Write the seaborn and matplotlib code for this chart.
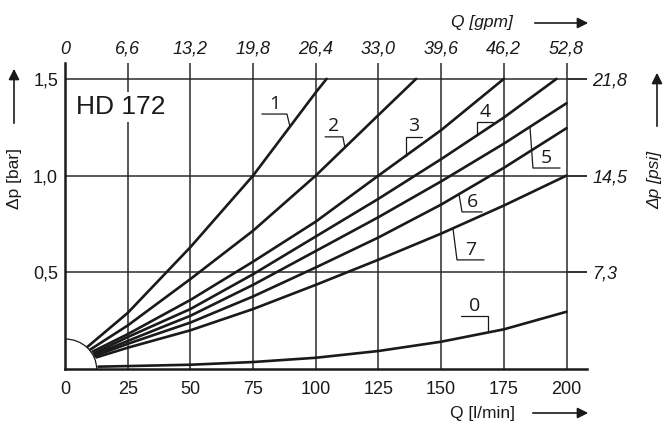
import numpy as np
import pandas as pd
import seaborn as sns
import matplotlib.pyplot as plt
from matplotlib.patches import Arc

# flow Q [l/min] vs pressure drop dp [bar]
q_0 = [13.3, 25, 50, 75, 100, 125, 150, 175, 200]
dp_0 = [0.012, 0.015, 0.022, 0.036, 0.058, 0.093, 0.141, 0.205, 0.296]
q_1 = [9, 25, 50, 75, 100, 104.3]
dp_1 = [0.115, 0.29, 0.63, 1.0, 1.43, 1.5]
q_2 = [10, 25, 50, 75, 100, 125, 140]
dp_2 = [0.1, 0.225, 0.465, 0.715, 1.0, 1.313, 1.5]
q_3 = [11, 25, 50, 75, 100, 125, 150, 175]
dp_3 = [0.09, 0.18, 0.357, 0.555, 0.762, 1.0, 1.235, 1.5]
q_4 = [11.5, 25, 50, 75, 100, 125, 150, 175, 196]
dp_4 = [0.08, 0.165, 0.31, 0.49, 0.685, 0.88, 1.085, 1.3, 1.5]
q_5 = [12, 25, 50, 75, 100, 125, 150, 175, 200]
dp_5 = [0.075, 0.145, 0.275, 0.435, 0.61, 0.785, 0.97, 1.165, 1.374]
q_6 = [12, 25, 50, 75, 100, 125, 150, 175, 200]
dp_6 = [0.068, 0.13, 0.24, 0.375, 0.525, 0.68, 0.85, 1.04, 1.245]
q_7 = [12.5, 25, 50, 75, 100, 125, 150, 175, 200]
dp_7 = [0.06, 0.11, 0.2, 0.31, 0.435, 0.565, 0.70, 0.845, 1.0]

curve_names = ["0", "1", "2", "3", "4", "5", "6", "7"]
curve_q = [q_0, q_1, q_2, q_3, q_4, q_5, q_6, q_7]
curve_dp = [dp_0, dp_1, dp_2, dp_3, dp_4, dp_5, dp_6, dp_7]

x_ticks = [0, 25, 50, 75, 100, 125, 150, 175, 200]
gpm_labels = ["0", "6,6", "13,2", "19,8", "26,4", "33,0", "39,6", "46,2", "52,8"]
y_ticks = [0.5, 1.0, 1.5]
bar_labels = ["0,5", "1,0", "1,5"]
psi_labels = ["7,3", "14,5", "21,8"]

# curve label callouts: name, q on curve, bar from/to, bar height, which bar end joins the curve
callouts = [
    ("1", 89.7, 78.5, 88.5, 1.318, "right"),
    ("2", 111.6, 103.7, 110.8, 1.20, "right"),
    ("3", 136.0, 136.0, 142.3, 1.20, "left"),
    ("4", 164.3, 164.3, 170.7, 1.277, "left"),
    ("5", 185.4, 186.6, 197.4, 1.039, "left"),
    ("6", 157.1, 158.3, 166.3, 0.812, "left"),
    ("7", 154.7, 156.3, 167.1, 0.564, "left"),
    ("0", 168.7, 157.9, 168.7, 0.274, "right"),
]

df = pd.concat(
    [pd.DataFrame({"curve": n, "Q": q, "dp": d}) for n, q, d in zip(curve_names, curve_q, curve_dp)],
    ignore_index=True,
)

sns.set_theme(style="white")
plt.rcParams["font.family"] = ["Liberation Sans", "DejaVu Sans"]
ink = "#1a1a1a"

fig = plt.figure(figsize=(6.67, 4.23), dpi=100)
ax = fig.add_axes([0.0975, 0.1277, 0.782, 0.7225])

sns.lineplot(data=df, x="Q", y="dp", hue="curve", palette=[ink] * len(curve_names),
             estimator=None, sort=False, legend=False, linewidth=1.9, ax=ax)

ax.set_xlim(0, 208)
ax.set_ylim(0, 1.58)
ax.set_xticks(x_ticks)
ax.set_yticks(y_ticks, labels=bar_labels)
ax.tick_params(length=0, labelsize=13, colors=ink)
ax.tick_params(axis="x", pad=9)
ax.tick_params(axis="y", pad=5)
ax.grid(True, color="#2a2a2a", linewidth=1.1)
ax.set_xlabel("")
ax.set_ylabel("")
for side in ["top", "right"]:
    ax.spines[side].set_visible(False)
for side in ["left", "bottom"]:
    ax.spines[side].set_color(ink)
    ax.spines[side].set_linewidth(1.8)

# little quarter circle at the origin
ax.add_patch(Arc((0, 0), 2 * 12.6, 2 * 0.155, theta1=0, theta2=90, color=ink, lw=0.9))

ax.text(22.3, 1.355, "HD 172", fontsize=19, ha="center", va="center", color=ink,
        bbox=dict(facecolor="white", edgecolor="none", pad=2))

for name, q_at, x0, x1, y_bar, joint in callouts:
    i = curve_names.index(name)
    y_at = np.interp(q_at, curve_q[i], curve_dp[i])
    xj, xo = (x1, x0) if joint == "right" else (x0, x1)
    ax.plot([q_at, xj, xo], [y_at, y_bar, y_bar], color=ink, lw=0.9)
    ax.annotate(name, xy=((x0 + x1) / 2, y_bar), xytext=(0, 1), textcoords="offset points",
                ha="center", va="bottom", fontsize=14, family="Open Sans", color=ink)

# gpm on top, psi on the right
italic = dict(fontstyle="italic", family="Liberation Sans")
top = ax.secondary_xaxis("top")
top.set_xticks(x_ticks, labels=gpm_labels, **italic)
right = ax.secondary_yaxis("right")
right.set_yticks(y_ticks, labels=psi_labels, **italic)
for sec in (top, right):
    sec.tick_params(length=0, labelsize=13, colors=ink)
    for sp in sec.spines.values():
        sp.set_visible(False)
top.tick_params(pad=4)
right.tick_params(pad=4)
for y in y_ticks:
    ax.plot([200, 208], [y, y], color="#2a2a2a", lw=1.1)

arrow = dict(arrowstyle="-|>", color=ink, lw=1.2, mutation_scale=16)
fig.text(483, 10, "Q [l/min]", transform=None, fontsize=12.5, ha="center", va="center", color=ink)
ax.annotate("", xy=(591, 10), xytext=(530, 10), xycoords="figure pixels", arrowprops=arrow)
fig.text(482, 401, "Q [gpm]", transform=None, fontsize=12.5, ha="center", va="center",
         color=ink, **italic)
ax.annotate("", xy=(591, 400), xytext=(532, 400), xycoords="figure pixels", arrowprops=arrow)
fig.text(15, 245, "Δp [bar]", transform=None, fontsize=12.5, rotation=90, ha="center",
         va="center", color=ink)
ax.annotate("", xy=(14, 357), xytext=(14, 297), xycoords="figure pixels", arrowprops=arrow)
fig.text(655, 243, "Δp [psi]", transform=None, fontsize=12.5, rotation=90, ha="center",
         va="center", color=ink, **italic)
ax.annotate("", xy=(657, 353), xytext=(657, 294), xycoords="figure pixels", arrowprops=arrow)

fig.savefig("out.png", dpi=100)
